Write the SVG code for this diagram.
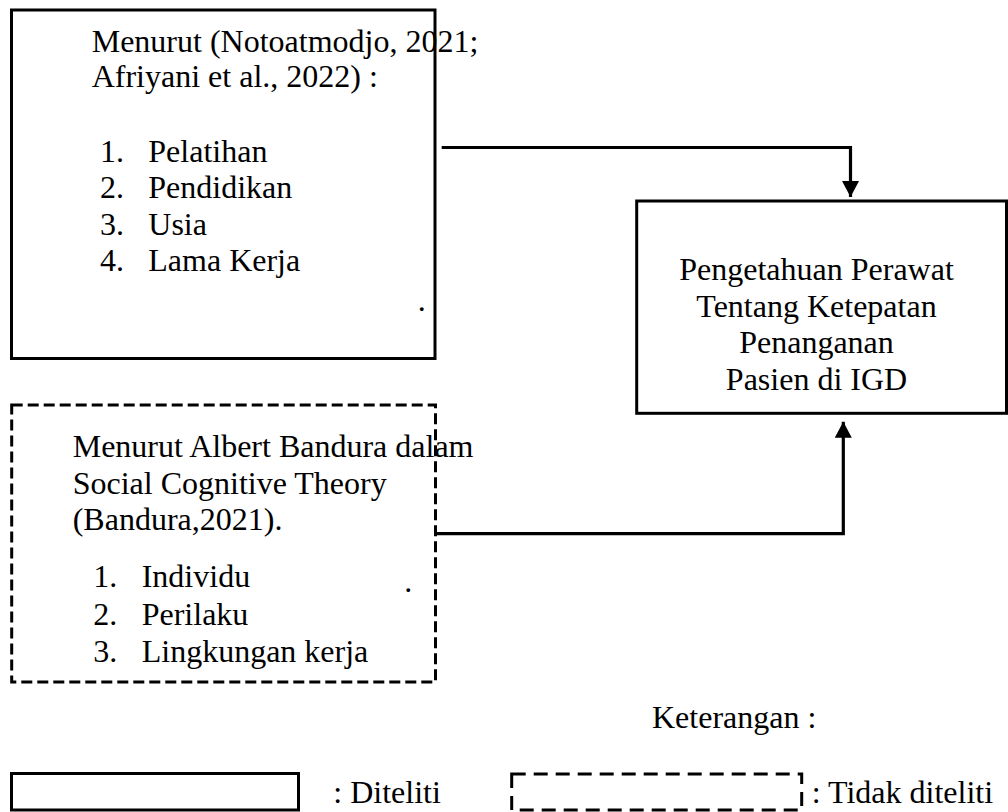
<svg xmlns="http://www.w3.org/2000/svg" width="1008" height="812" viewBox="0 0 1008 812">
<style>
  text { font-family: "Liberation Serif", "Times New Roman", serif; font-size: 32px; fill: #000; }
  .box { fill: #fff; stroke: #000; stroke-width: 3; }
  .dash { fill: #fff; stroke: #000; stroke-width: 3; stroke-dasharray: 11 5; }
  .dashleg { fill: #fff; stroke: #000; stroke-width: 3; stroke-dasharray: 14 8; }
  .conn { fill: none; stroke: #000; stroke-width: 3.2; }
  .mid { text-anchor: middle; }
</style>
<defs>
  <marker id="arrow" markerUnits="userSpaceOnUse" markerWidth="16" markerHeight="17" viewBox="0 0 16 17" refX="16" refY="8.5" orient="auto">
    <path d="M0,0 L16,8.5 L0,17 Z" fill="#000"/>
  </marker>
</defs>
<rect width="1008" height="812" fill="#fff"/>

<g id="node-faktor">
  <rect class="box" x="11.5" y="10" width="423.5" height="348.5"/>
  <text x="91.7" y="51.7">Menurut (Notoatmodjo, 2021;</text>
  <text x="91.7" y="87.3">Afriyani et al., 2022) :</text>
  <text x="100" y="161.7">1.</text><text x="148.3" y="161.7">Pelatihan</text>
  <text x="100" y="198.3">2.</text><text x="148.3" y="198.3">Pendidikan</text>
  <text x="100" y="235">3.</text><text x="148.3" y="235">Usia</text>
  <text x="100" y="270.7">4.</text><text x="148.3" y="270.7">Lama Kerja</text>
  <text x="417.7" y="311">.</text>
</g>

<g id="node-bandura">
  <rect class="dash" x="11.7" y="405" width="423.8" height="277"/>
  <text x="72.7" y="456.7">Menurut Albert Bandura dalam</text>
  <text x="72.7" y="494">Social Cognitive Theory</text>
  <text x="72.7" y="530">(Bandura,2021).</text>
  <text x="93.3" y="587.3">1.</text><text x="141.7" y="587.3">Individu</text>
  <text x="93.3" y="625">2.</text><text x="141.7" y="625">Perilaku</text>
  <text x="93.3" y="661.7">3.</text><text x="141.7" y="661.7">Lingkungan kerja</text>
  <text x="404.3" y="592">.</text>
</g>

<g id="node-pengetahuan">
  <rect class="box" x="636.7" y="201" width="369.8" height="212.3"/>
  <text class="mid" x="816.5" y="280">Pengetahuan Perawat</text>
  <text class="mid" x="816.5" y="316.7">Tentang Ketepatan</text>
  <text class="mid" x="816.5" y="353.3">Penanganan</text>
  <text class="mid" x="816.5" y="390">Pasien di IGD</text>
</g>

<g id="connectors">
  <path class="conn" d="M441.7,147.5 H850.5 V197" marker-end="url(#arrow)"/>
  <path class="conn" d="M436,533.7 H843.3 V421.7" marker-end="url(#arrow)"/>
</g>

<g id="legend">
  <text x="652" y="728">Keterangan :</text>
  <rect class="box" x="11.5" y="773.5" width="287" height="36.5"/>
  <text x="333.3" y="803.3">: Diteliti</text>
  <rect class="dashleg" x="511.7" y="774" width="290" height="36"/>
  <text x="811.7" y="803.3">: Tidak diteliti</text>
</g>
</svg>
